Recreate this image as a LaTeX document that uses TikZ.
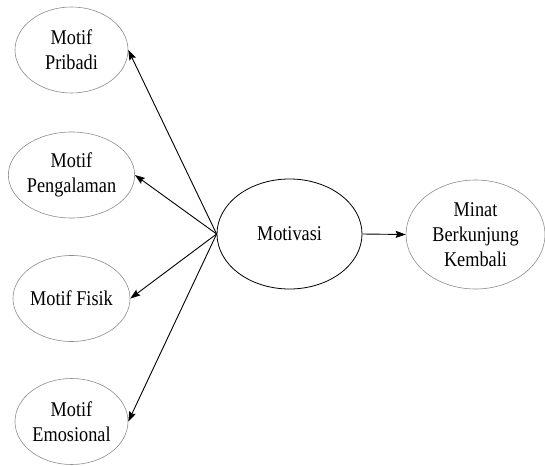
\documentclass[tikz,border=0pt]{standalone}
\usepackage{fontspec}
\setmainfont{Liberation Serif}[FakeStretch=0.87]
\usetikzlibrary{shapes.geometric,arrows.meta}
\begin{document}
\begin{tikzpicture}[x=1pt,y=-1pt,
  txt/.style={font=\fontsize{21}{25}\selectfont, align=center, inner sep=0pt},
  outer/.style={txt, ellipse, draw=black!45, line width=0.6pt, minimum width=113pt, minimum height=86pt},
  centre/.style={txt, ellipse, draw=black, line width=0.8pt, minimum width=145pt, minimum height=110pt},
  arr/.style={line width=0.9pt, -{Stealth[length=10pt,width=7pt,inset=1.5pt]}}]
\useasboundingbox (0,0) rectangle (545,465);
\node[outer] (pribadi) at (71.5,50) {Motif\\Pribadi};
\node[outer] (pengalaman) at (71.5,175) {Motif\\Pengalaman};
\node[outer] (fisik) at (71.5,298.5) {Motif Fisik};
\node[outer] (emosional) at (71.5,421.5) {Motif\\Emosional};
\node[centre] (motivasi) at (289.5,234) {Motivasi};
\node[outer, minimum width=139pt, minimum height=109pt] (minat) at (475.5,234.5) {Minat\\Berkunjung\\Kembali};
\draw[arr] (motivasi.west) -- (pribadi.east);
\draw[arr] (motivasi.west) -- (pengalaman.east);
\draw[arr] (motivasi.west) -- (fisik.east);
\draw[arr] (motivasi.west) -- (emosional.east);
\draw[arr] (motivasi.east) -- (minat.west);
\end{tikzpicture}
\end{document}
